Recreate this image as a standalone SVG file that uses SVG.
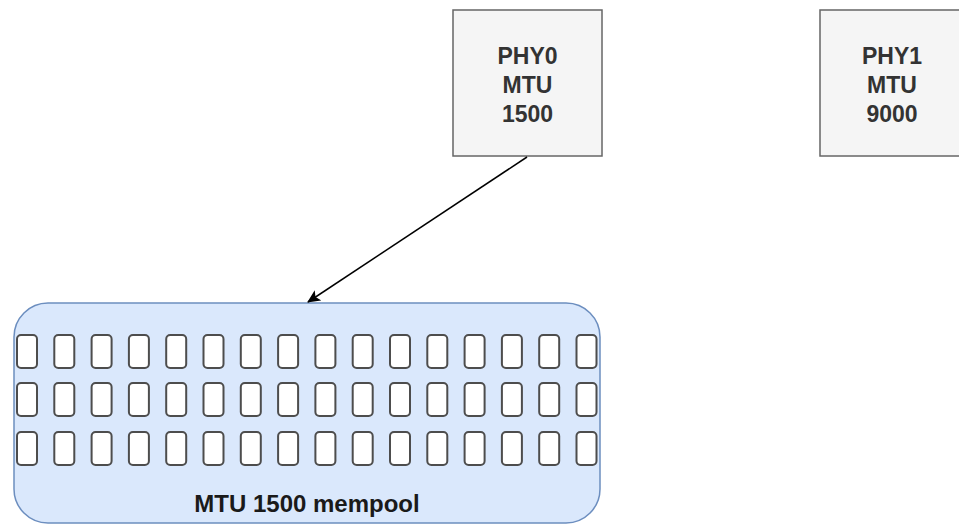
<svg xmlns="http://www.w3.org/2000/svg" xmlns:xlink="http://www.w3.org/1999/xlink" width="959" height="525" viewBox="0 0 959 525">
<style>
.phy{fill:#f5f5f5;stroke:#666666;stroke-width:1.5}
.phytxt{font-family:"Liberation Sans",Arial,sans-serif;font-weight:bold;font-size:23px;fill:#333333;text-anchor:middle}
.pool{fill:#dae8fc;stroke:#6c8ebf;stroke-width:1.5}
.buf{fill:#ffffff;stroke:#4d4d4d;stroke-width:2}
.pooltxt{font-family:"Liberation Sans",Arial,sans-serif;font-weight:bold;font-size:24px;fill:#1a1a1a;text-anchor:middle}
.edge{fill:none;stroke:#000000;stroke-width:1.5}
</style>
<defs>
<marker id="arrow" markerWidth="13" markerHeight="13" refX="12" refY="6.5" orient="auto" markerUnits="userSpaceOnUse" viewBox="0 0 13 13">
<path d="M0,0.5 L13,6.5 L0,12.5 L3,6.5 Z" fill="#000000"/>
</marker>
<rect id="b" width="20" height="33" rx="4" class="buf"/>
</defs>
<rect width="959" height="525" fill="#ffffff"/>
<g id="phy0">
<rect class="phy" x="453" y="10" width="149" height="146"/>
<text class="phytxt" x="527.5" y="64">PHY0</text>
<text class="phytxt" x="527.5" y="93">MTU</text>
<text class="phytxt" x="527.5" y="122">1500</text>
</g>
<g id="phy1">
<rect class="phy" x="820" y="10" width="149" height="146"/>
<text class="phytxt" x="892" y="64">PHY1</text>
<text class="phytxt" x="892" y="93">MTU</text>
<text class="phytxt" x="892" y="122">9000</text>
</g>
<g id="mempool">
<rect class="pool" x="14" y="303" width="586" height="220" rx="34"/>
<g id="row1">
<use xlink:href="#b" x="17" y="335"/><use xlink:href="#b" x="54.3" y="335"/><use xlink:href="#b" x="91.6" y="335"/><use xlink:href="#b" x="128.9" y="335"/>
<use xlink:href="#b" x="166.2" y="335"/><use xlink:href="#b" x="203.5" y="335"/><use xlink:href="#b" x="240.8" y="335"/><use xlink:href="#b" x="278.1" y="335"/>
<use xlink:href="#b" x="315.4" y="335"/><use xlink:href="#b" x="352.7" y="335"/><use xlink:href="#b" x="390" y="335"/><use xlink:href="#b" x="427.3" y="335"/>
<use xlink:href="#b" x="464.6" y="335"/><use xlink:href="#b" x="501.9" y="335"/><use xlink:href="#b" x="539.2" y="335"/><use xlink:href="#b" x="576.5" y="335"/>
</g>
<g id="row2">
<use xlink:href="#b" x="17" y="383"/><use xlink:href="#b" x="54.3" y="383"/><use xlink:href="#b" x="91.6" y="383"/><use xlink:href="#b" x="128.9" y="383"/>
<use xlink:href="#b" x="166.2" y="383"/><use xlink:href="#b" x="203.5" y="383"/><use xlink:href="#b" x="240.8" y="383"/><use xlink:href="#b" x="278.1" y="383"/>
<use xlink:href="#b" x="315.4" y="383"/><use xlink:href="#b" x="352.7" y="383"/><use xlink:href="#b" x="390" y="383"/><use xlink:href="#b" x="427.3" y="383"/>
<use xlink:href="#b" x="464.6" y="383"/><use xlink:href="#b" x="501.9" y="383"/><use xlink:href="#b" x="539.2" y="383"/><use xlink:href="#b" x="576.5" y="383"/>
</g>
<g id="row3">
<use xlink:href="#b" x="17" y="432"/><use xlink:href="#b" x="54.3" y="432"/><use xlink:href="#b" x="91.6" y="432"/><use xlink:href="#b" x="128.9" y="432"/>
<use xlink:href="#b" x="166.2" y="432"/><use xlink:href="#b" x="203.5" y="432"/><use xlink:href="#b" x="240.8" y="432"/><use xlink:href="#b" x="278.1" y="432"/>
<use xlink:href="#b" x="315.4" y="432"/><use xlink:href="#b" x="352.7" y="432"/><use xlink:href="#b" x="390" y="432"/><use xlink:href="#b" x="427.3" y="432"/>
<use xlink:href="#b" x="464.6" y="432"/><use xlink:href="#b" x="501.9" y="432"/><use xlink:href="#b" x="539.2" y="432"/><use xlink:href="#b" x="576.5" y="432"/>
</g>
<text class="pooltxt" x="307" y="512">MTU 1500 mempool</text>
</g>
<g id="connectors">
<line class="edge" x1="527" y1="157" x2="308" y2="302" marker-end="url(#arrow)"/>
</g>
</svg>
